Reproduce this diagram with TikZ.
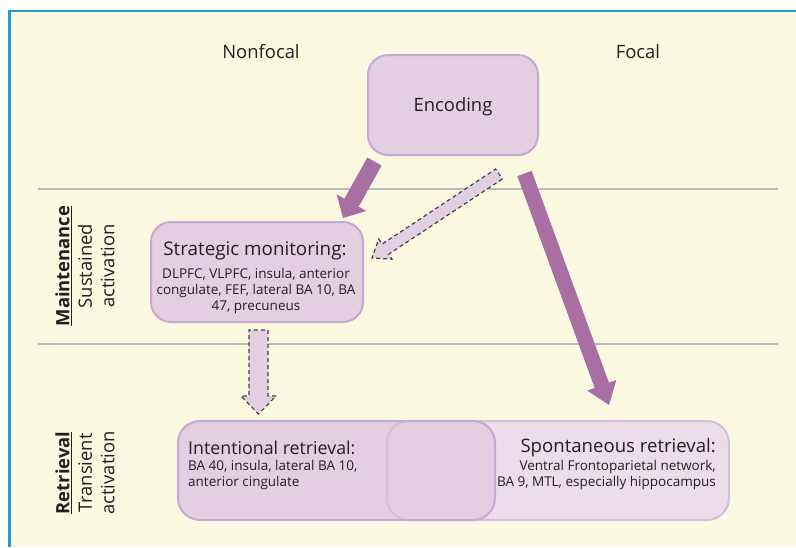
\documentclass[tikz,border=0pt]{standalone}
\usepackage{fontspec}
\setmainfont{Open Sans}
\usetikzlibrary{calc}

\definecolor{paper}{HTML}{FCF9E1}
\definecolor{frameblue}{HTML}{2B9AD6}
\definecolor{rulegray}{HTML}{BBBBBB}
\definecolor{boxfill}{HTML}{E2CFE1}
\definecolor{boxedge}{HTML}{C8A9D2}
\definecolor{lightfill}{HTML}{EBDDEA}
\definecolor{lightedge}{HTML}{D6BFDC}
\definecolor{arrowpurple}{HTML}{A86FA4}
\definecolor{ink}{HTML}{231F20}

% Block arrow drawn as a closed outline:
% #1 style, #2 tail, #3 tip, #4 shaft half width, #5 head half width, #6 head length
\newcommand\blockarrow[6]{%
  \coordinate (ba-h) at ($(#3)!#6pt!(#2)$);
  \path[#1] ($(#2)!#4pt!90:(#3)$) -- ($(ba-h)!#4pt!-90:(#2)$)
    -- ($(ba-h)!#5pt!-90:(#2)$) -- (#3) -- ($(ba-h)!#5pt!90:(#2)$)
    -- ($(ba-h)!#4pt!90:(#2)$) -- ($(#2)!#4pt!-90:(#3)$) -- cycle;
}

\tikzset{
  headfont/.style={font=\fontsize{18.4}{22.5}\selectfont},
  titlefont/.style={font=\fontsize{#1}{21}\selectfont},
  smallfont/.style={font=\fontsize{13.5}{16.2}\selectfont},
  txt/.style={text=ink, inner sep=0pt},
  darkbox/.style={draw=boxedge, fill=boxfill, line width=2pt, rounded corners=20pt},
  lightbox/.style={draw=lightedge, fill=lightfill, line width=2pt, rounded corners=22pt},
  solidarrow/.style={fill=arrowpurple},
  dasharrow/.style={fill=boxfill, draw=ink!85, line width=1.2pt, dash pattern=on 4pt off 3pt},
  divider/.style={draw=rulegray, line width=2.5pt},
}

\begin{document}
\begin{tikzpicture}[x=1pt, y=-1pt]
\useasboundingbox (0,0) rectangle (796,547);

% panel and frame
\fill[paper] (9.5,11) rectangle (796,547);
\draw[frameblue, line width=2.5pt] (9.5,547) -- (9.5,11) -- (796,11);

% stage dividers
\draw[divider] (38,189) -- (778,189);
\draw[divider] (38,344) -- (778,344);

% column headings
\node[txt, headfont] (nonfocal) at (261,52) {Nonfocal};
\node[txt, headfont] (focal) at (638,52) {Focal};

% row headings
\node[txt, headfont, rotate=90, align=center] (maint) at (85,266)
  {\underline{\textbf{Maintenance}}\\Sustained\\activation};
\node[txt, headfont, rotate=90, align=center] (retr) at (85,473)
  {\underline{\textbf{Retrieval}}\\Transient\\activation};

% encoding
\node[darkbox, minimum width=170pt, minimum height=100pt] (enc) at (453,105) {};
\node[txt, headfont] (enclbl) at (453,107) {Encoding};

% strategic monitoring
\node[darkbox, minimum width=212pt, minimum height=100pt] (sm) at (257,272) {};
\node[txt, titlefont=18.8] (smtitle) at (255,251) {Strategic monitoring:};
\node[txt, smallfont, align=center] (smbody) at (256,291)
  {DLPFC, VLPFC, insula, anterior\\congulate, FEF, lateral BA 10, BA\\47, precuneus};

% retrieval boxes: fills first, then both outlines so each stays visible
\node[lightbox, draw=none, minimum width=342pt, minimum height=99pt] (sr) at (558,470.5) {};
\node[darkbox, draw=none, rounded corners=22pt, minimum width=317pt, minimum height=99pt] (ir) at (336.5,470.5) {};
\node[lightbox, fill=none, minimum width=342pt, minimum height=99pt] (srline) at (558,470.5) {};
\node[darkbox, fill=none, rounded corners=22pt, minimum width=317pt, minimum height=99pt] (irline) at (336.5,470.5) {};

\node[txt, titlefont=17.8, anchor=west] (irtitle) at (188,448) {Intentional retrieval:};
\node[txt, smallfont, anchor=north west, align=left] (irbody) at (188,460)
  {BA 40, insula, lateral BA 10,\\anterior cingulate};

\node[txt, titlefont=18.6, anchor=east] (srtitle) at (716,448) {Spontaneous retrieval:};
\node[txt, smallfont, anchor=north east, align=right] (srbody) at (716,460)
  {Ventral Frontoparietal network,\\BA 9, MTL, especially hippocampus};

% arrow end points
\coordinate (a1s) at (374.5,161.5);
\coordinate (a1e) at (343,218);
\coordinate (a2s) at (499,174);
\coordinate (a2e) at (372,258);
\coordinate (a3s) at (258.5,330);
\coordinate (a3e) at (258.5,414);
\coordinate (a4s) at (524.5,173.5);
\coordinate (a4e) at (609,405);

% arrows
\blockarrow{solidarrow}{a1s}{a1e}{8.2}{17}{17.5}
\blockarrow{dasharrow}{a2s}{a2e}{6}{12}{16}
\blockarrow{dasharrow}{a3s}{a3e}{9.5}{17.5}{18}
\blockarrow{solidarrow}{a4s}{a4e}{7.6}{15.5}{21}
\end{tikzpicture}
\end{document}
